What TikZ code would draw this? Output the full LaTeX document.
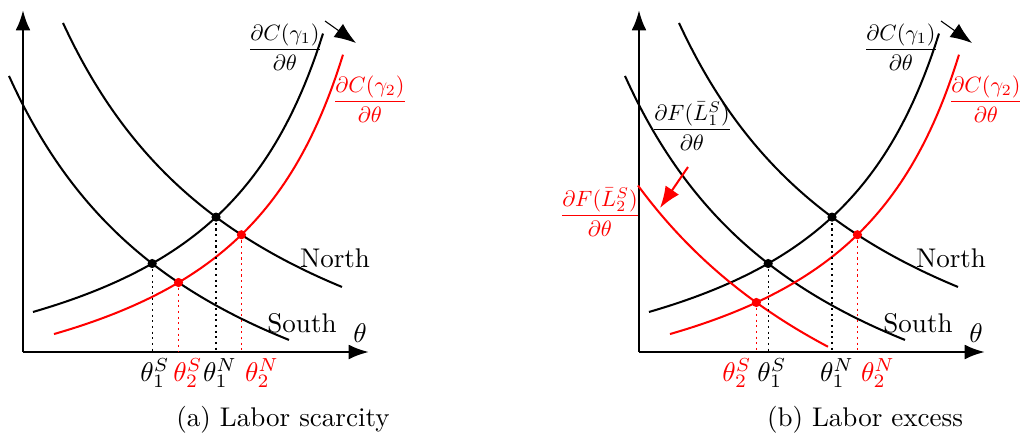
\documentclass[tikz,border=0pt]{standalone}
\usepackage{amsmath}
\usepackage{graphicx}
\usetikzlibrary{arrows.meta,intersections}
\newcommand\fr[1]{\scalebox{0.82}{$\dfrac{#1}{\partial\theta}$}}
\begin{document}
\begin{tikzpicture}[x=0.37pt,y=-0.37pt,
  curve/.style={line width=0.75pt},
  axis/.style={line width=1pt,-{Latex[length=7.5pt,width=5.5pt]}},
  guide/.style={line width=0.45pt,dash pattern=on 0.8pt off 1.3pt},
  dotmark/.style={circle,fill,inner sep=0pt,minimum size=3.4pt},
  shiftarrow/.style={-{Latex[length=8pt,width=6pt]}},
  frac/.style={inner sep=1pt}
]
\useasboundingbox (0,0) rectangle (1020,434);

\newcommand\panelcurves[1]{%
  \coordinate (O#1) at (23,352);
  \coordinate (Y#1) at (23,10);
  \coordinate (X#1) at (369,352);
  \draw[axis] (O#1) -- (Y#1);
  \draw[axis] (O#1) -- (X#1);
  \draw[curve,name path global=N#1] plot[domain=63:342,samples=80] (\x,{492-1015.8/(0.01*\x+1.536)});
  \draw[curve,name path global=S#1] plot[domain=9:289,samples=80] (\x,{536.1-957.05/(0.01*\x+1.99)});
  \draw[curve,name path global=A#1] plot[domain=33:323,samples=80] (\x,{432.4-500.09/(4.482-0.01*\x)});
  \draw[curve,red,name path global=B#1] plot[domain=54:343,samples=80] (\x,{453.1-490.43/(4.659-0.01*\x)});
  \node (north#1) at (335,258) {North};
  \node (south#1) at (302,323) {South};
  \node (theta#1) at (360,333) {$\theta$};
  \node[frac] (cone#1) at (285,47) {\fr{\partial C(\gamma_1)}};
  \node[frac,red] (ctwo#1) at (370,99) {\fr{\partial C(\gamma_2)}};
  \coordinate (as#1) at (325,21);
  \coordinate (ae#1) at (356,43);
  \draw[shiftarrow,line width=0.4pt] (as#1) -- (ae#1);
}

% ---------- panel (a)
\panelcurves{L}
\path[name intersections={of=SL and AL,by=p1SL}];
\path[name intersections={of=NL and AL,by=p1NL}];
\path[name intersections={of=SL and BL,by=p2SL}];
\path[name intersections={of=NL and BL,by=p2NL}];
\draw[guide] (p1SL) -- (p1SL |- OL);
\draw[guide] (p1NL) -- (p1NL |- OL);
\draw[guide,red] (p2SL) -- (p2SL |- OL);
\draw[guide,red] (p2NL) -- (p2NL |- OL);
\node[dotmark] (d1SL) at (p1SL) {};
\node[dotmark] (d1NL) at (p1NL) {};
\node[dotmark,red] (d2SL) at (p2SL) {};
\node[dotmark,red] (d2NL) at (p2NL) {};
\node (l1SL) at (155,373) {$\theta_1^S$};
\node[red] (l2SL) at (188,373) {$\theta_2^S$};
\node (l1NL) at (220,373) {$\theta_1^N$};
\node[red] (l2NL) at (262,373) {$\theta_2^N$};
\node (capL) at (283,420) {(a) Labor scarcity};

% ---------- panel (b)
\begin{scope}[shift={(616,0)}]
\panelcurves{R}
\end{scope}
\draw[curve,red,name path global=FR] plot[domain=638:828,samples=80] (\x,{615.2-1358.52/(0.01*\x-3.215)});
\node[frac] (fone) at (692,126) {\fr{\partial F(\bar L_1^S)}};
\node[frac,red] (ftwo) at (600,212) {\fr{\partial F(\bar L_2^S)}};
\coordinate (fas) at (688,167);
\coordinate (fae) at (660,208);
\draw[shiftarrow,red,line width=0.75pt] (fas) -- (fae);
\path[name intersections={of=SR and AR,by=p1SR}];
\path[name intersections={of=NR and AR,by=p1NR}];
\path[name intersections={of=FR and BR,by=p2SR}];
\path[name intersections={of=NR and BR,by=p2NR}];
\draw[guide] (p1SR) -- (p1SR |- OR);
\draw[guide] (p1NR) -- (p1NR |- OR);
\draw[guide,red] (p2SR) -- (p2SR |- OR);
\draw[guide,red] (p2NR) -- (p2NR |- OR);
\node[dotmark] (d1SR) at (p1SR) {};
\node[dotmark] (d1NR) at (p1NR) {};
\node[dotmark,red] (d2SR) at (p2SR) {};
\node[dotmark,red] (d2NR) at (p2NR) {};
\node[red] (l2SR) at (737,373) {$\theta_2^S$};
\node (l1SR) at (772,373) {$\theta_1^S$};
\node (l1NR) at (837,373) {$\theta_1^N$};
\node[red] (l2NR) at (878,373) {$\theta_2^N$};
\node (capR) at (865,420) {(b) Labor excess};
\end{tikzpicture}
\end{document}
